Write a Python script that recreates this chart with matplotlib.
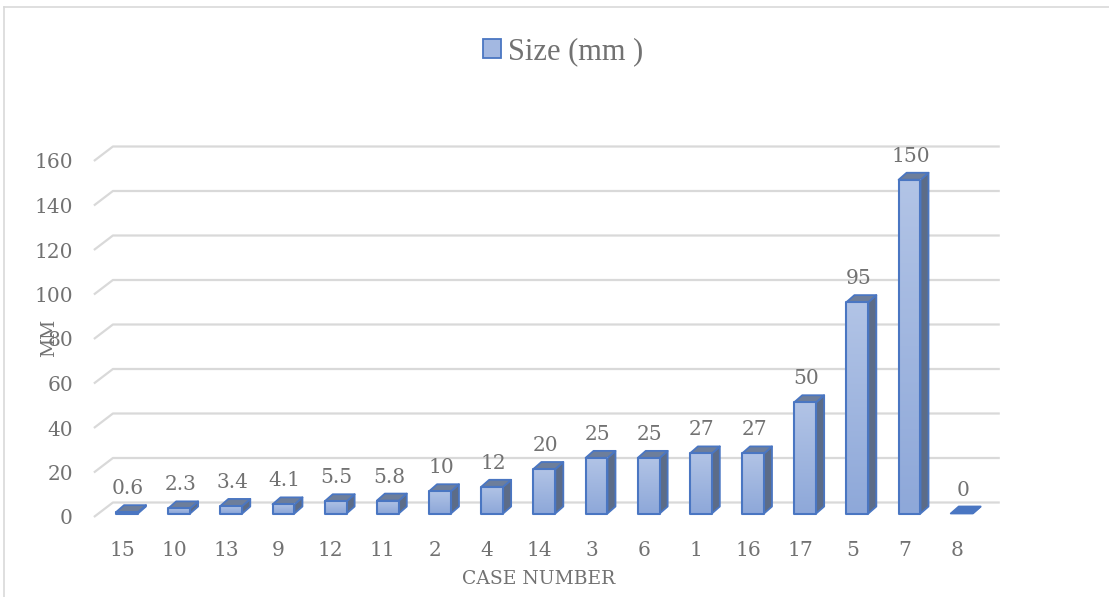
import numpy as np
import matplotlib
matplotlib.use("Agg")
import matplotlib.pyplot as plt
from matplotlib.patches import Polygon, Rectangle
from matplotlib.lines import Line2D
from matplotlib.colors import LinearSegmentedColormap
from matplotlib.transforms import ScaledTranslation

# ---- data ----
cases = ["15", "10", "13", "9", "12", "11", "2", "4", "14", "3", "6", "1",
         "16", "17", "5", "7", "8"]
sizes = [0.6, 2.3, 3.4, 4.1, 5.5, 5.8, 10, 12, 20, 25, 25, 27, 27, 50, 95, 150, 0]
size_labels = ["0.6", "2.3", "3.4", "4.1", "5.5", "5.8", "10", "12", "20", "25",
               "25", "27", "27", "50", "95", "150", "0"]
y_ticks = [0, 20, 40, 60, 80, 100, 120, 140, 160]
series_name = "Size (mm )"
x_title = "CASE NUMBER"
y_title = "MM"

# ---- style ----
TEXT = "#727272"
GRID = "#d9d9d9"
EDGE = "#4a76c2"
FRONT_TOP = "#b2c4e6"
FRONT_BOT = "#8ea8d9"
TOP_FACE = "#6d7e9b"
SIDE_FACE = "#5c6c88"
LABEL_FONT = "DejaVu Serif"
LEGEND_FONT = "Liberation Serif"
FS = 14.5

W, H = 1109, 597
DPI = 100
fig = plt.figure(figsize=(W / DPI, H / DPI), dpi=DPI)
fig.patch.set_facecolor("white")

ax_l, ax_r = 100.9, 987.8
ax_t, ax_b = 157.5, 513.5
ax = fig.add_axes([ax_l / W, (H - ax_b) / H, (ax_r - ax_l) / W, (ax_b - ax_t) / H])
ax.axis("off")

n = len(cases)
xmin, xmax = -0.5, n - 0.5
ymin, ymax = 0, 160
px_x = (ax_r - ax_l) / (xmax - xmin)   # pixels per category
px_y = (ax_b - ax_t) / (ymax - ymin)   # pixels per unit


def shift(dx, dy):
    """Offset transform in pixels (dy positive = downward on the image)."""
    return ax.transData + ScaledTranslation(dx / DPI, -dy / DPI, fig.dpi_scale_trans)


# ---- back wall gridlines with perspective floor edge ----
fx, fy = -7.0, 3.5     # front corner offset (px)
bx, by = 12.0, -11.0   # back wall offset (px)
for v in y_ticks:
    xs = [xmin + fx / px_x, xmin + bx / px_x, xmax + bx / px_x]
    ys = [v - fy / px_y, v - by / px_y, v - by / px_y]
    ax.add_line(Line2D(xs, ys, color=GRID, lw=1.6, clip_on=False, zorder=1,
                       solid_capstyle="butt"))

# ---- 3D-looking columns ----
bar_w = 0.42
ddx = 8.0 / px_x
ddy = 7.0 / px_y
cmap = LinearSegmentedColormap.from_list("front", [FRONT_BOT, FRONT_TOP])
grad = np.linspace(0, 1, 256).reshape(-1, 1)

for i, v in enumerate(sizes):
    x0, x1 = i - bar_w / 2, i + bar_w / 2
    # right side face
    side = Polygon([(x1, 0), (x1 + ddx, ddy), (x1 + ddx, v + ddy), (x1, v)],
                   closed=True, facecolor=SIDE_FACE, edgecolor=EDGE, lw=1.3,
                   joinstyle="round", zorder=3, clip_on=False)
    ax.add_patch(side)
    # top face
    top = Polygon([(x0, v), (x1, v), (x1 + ddx, v + ddy), (x0 + ddx, v + ddy)],
                  closed=True, facecolor=TOP_FACE if v > 0 else EDGE,
                  edgecolor=EDGE, lw=1.3, joinstyle="round", zorder=3, clip_on=False)
    ax.add_patch(top)
    # front face with vertical gradient
    if v > 0:
        ax.imshow(grad, extent=[x0, x1, 0, v], origin="lower", aspect="auto",
                  cmap=cmap, zorder=4, interpolation="bilinear")
        ax.add_patch(Rectangle((x0, 0), bar_w, v, facecolor="none", edgecolor=EDGE,
                               lw=1.5, joinstyle="round", zorder=5, clip_on=False))
    # value label above the column
    ax.text(i, v, size_labels[i], transform=shift(1, -18), ha="center",
            va="baseline", fontsize=FS, family=LABEL_FONT, color=TEXT, zorder=6)
    # category label
    ax.text(i, 0, cases[i], transform=shift(-5, 42), ha="center", va="baseline",
            fontsize=FS, family=LABEL_FONT, color=TEXT)

# ---- value axis labels ----
for v in y_ticks:
    ax.text(xmin, v, str(v), transform=shift(-28, 11), ha="right", va="baseline",
            fontsize=FS, family=LABEL_FONT, color=TEXT)

ax.set_xlim(xmin, xmax)
ax.set_ylim(ymin, ymax)

# ---- axis titles ----
fig.text(539 / W, 1 - 583.5 / H, x_title, ha="center", va="baseline",
         fontsize=13.5, family=LABEL_FONT, color=TEXT)
fig.text(49 / W, 1 - 338 / H, y_title, ha="center", va="center", rotation=90,
         fontsize=13.5, family=LABEL_FONT, color=TEXT)

# ---- legend ----
fig.add_artist(Rectangle((483 / W, 1 - 58 / H), 18 / W, 19 / H,
                         transform=fig.transFigure, facecolor="#a3b8e1",
                         edgecolor=EDGE, lw=1.3))
fig.text(508 / W, 1 - 59 / H, series_name, ha="left", va="baseline",
         fontsize=22, family=LEGEND_FONT, color=TEXT)

# ---- chart area border ----
fig.add_artist(Line2D([4 / W, 1], [1 - 7 / H, 1 - 7 / H], transform=fig.transFigure,
                      color=GRID, lw=1.2))
fig.add_artist(Line2D([4 / W, 4 / W], [0, 1 - 7 / H], transform=fig.transFigure,
                      color=GRID, lw=1.2))

fig.savefig("out.png", dpi=DPI)
